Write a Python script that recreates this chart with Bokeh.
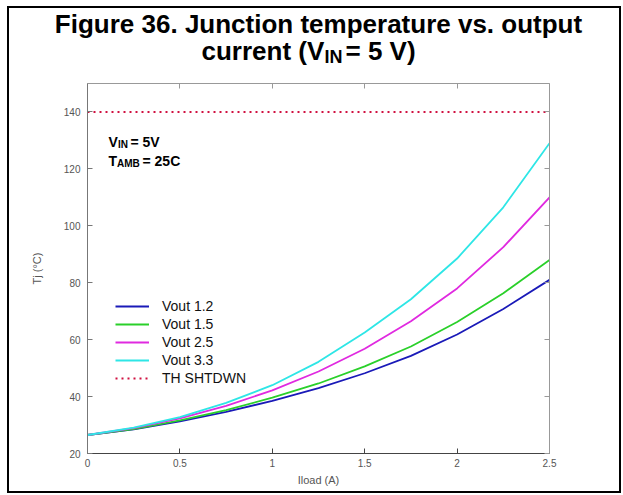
from bokeh.plotting import figure
from bokeh.layouts import column
from bokeh.models import (Label, Legend, LegendItem, LinearAxis, FixedTicker,
                          CustomLabelingPolicy)
from bokeh.embed import file_html
from bokeh.resources import INLINE

# ---------------- data ----------------
iload = [0.0, 0.25, 0.5, 0.75, 1.0, 1.25, 1.5, 1.75, 2.0, 2.25, 2.5]
tj_vout_1_2 = [26.5, 28.5, 31.3, 34.6, 38.5, 43.0, 48.2, 54.3, 61.8, 70.8, 81.0]
tj_vout_1_5 = [26.5, 28.6, 31.6, 35.2, 39.6, 44.6, 50.6, 57.6, 66.2, 76.3, 88.0]
tj_vout_2_5 = [26.5, 28.9, 32.3, 36.7, 42.2, 48.8, 56.8, 66.5, 78.0, 92.5, 110.0]
tj_vout_3_3 = [26.5, 29.1, 32.8, 37.8, 44.0, 52.2, 62.5, 74.2, 88.5, 106.5, 129.0]
th_shtdwn = 140

series_names = ["Vout 1.2", "Vout 1.5", "Vout 2.5", "Vout 3.3"]
series_values = [tj_vout_1_2, tj_vout_1_5, tj_vout_2_5, tj_vout_3_3]
series_colors = ["#1a1ab8", "#2ad02a", "#e02ae0", "#2ee6e6"]

x_ticks = [0, 0.5, 1, 1.5, 2, 2.5]
x_tick_labels = ["0", "0.5", "1", "1.5", "2", "2.5"]
y_ticks = [20, 40, 60, 80, 100, 120, 140]
y_tick_labels = ["20", "40", "60", "80", "100", "120", "140"]

FONT = "Liberation Sans"
W = 610


def lab(fig, x, y, t, size, bold=True, align="left"):
    fig.add_layout(Label(x=x, y=y, x_units="screen", y_units="screen", text=t,
                         text_font=FONT, text_font_size=size,
                         text_font_style="bold" if bold else "normal",
                         text_align=align, text_baseline="alphabetic",
                         text_color="#000000"))


# ---------------- title strip ----------------
tfig = figure(width=W, height=59, x_range=(0, 1), y_range=(0, 1),
              x_axis_location=None, y_axis_location=None,
              output_backend="svg", toolbar_location=None,
              min_border=0, min_border_left=0, min_border_right=0,
              min_border_top=0, min_border_bottom=0,
              title="Figure 36. Junction temperature vs. output")
tfig.grid.visible = False
tfig.outline_line_color = None
tfig.title.text_font = FONT
tfig.title.text_font_size = "26px"
tfig.title.text_font_style = "bold"
tfig.title.text_color = "#000000"
tfig.title.align = "center"
tfig.title.vertical_align = "top"
tfig.title.standoff = 0
tfig.title.offset = -3

lab(tfig, 114, 17, "current (V", "26px")
lab(tfig, 237, 11, "IN", "18px")
lab(tfig, 258, 17, " = 5 V)", "26px")

# ---------------- main plot ----------------
p = figure(width=W, height=424, x_range=(0, 2.5), y_range=(20, 150),
           output_backend="svg", toolbar_location=None,
           min_border_left=78, min_border_right=70,
           min_border_top=0, min_border_bottom=38)
p.outline_line_color = None
p.grid.visible = False

no_labels = CustomLabelingPolicy(code="""
for (const i of Array.from(indices)) { indices.unset(i) }
return indices
""")


def style_axis(ax, color):
    ax.axis_line_color = color
    ax.major_tick_line_color = color
    ax.major_tick_in = 5
    ax.major_tick_out = 0
    ax.minor_tick_line_color = None
    ax.major_label_text_font = FONT
    ax.major_label_text_font_size = "10px"
    ax.major_label_text_color = "#555555"
    ax.axis_label_text_font = FONT
    ax.axis_label_text_font_size = "11px"
    ax.axis_label_text_font_style = "normal"
    ax.axis_label_text_color = "#555555"


xa = p.xaxis[0]
xa.ticker = FixedTicker(ticks=x_ticks)
xa.major_label_overrides = {t: l for t, l in zip(x_ticks, x_tick_labels)}
xa.axis_label = "Iload (A)"
style_axis(xa, "#444444")
xa.major_label_standoff = 5
xa.axis_label_standoff = 4

ya = p.yaxis[0]
ya.ticker = FixedTicker(ticks=y_ticks)
ya.major_label_overrides = {t: l for t, l in zip(y_ticks, y_tick_labels)}
ya.axis_label = "Tj (\u00b0C)"
style_axis(ya, "#777777")
ya.major_label_standoff = 7
ya.axis_label_standoff = 18

xt = LinearAxis(ticker=FixedTicker(ticks=x_ticks), major_label_policy=no_labels)
style_axis(xt, "#999999")
p.add_layout(xt, "above")
yr = LinearAxis(ticker=FixedTicker(ticks=y_ticks), major_label_policy=no_labels)
style_axis(yr, "#999999")
p.add_layout(yr, "right")

renderers = []
for name, vals, col in zip(series_names, series_values, series_colors):
    renderers.append(p.line(iload, vals, line_color=col, line_width=1.8))

r_th = p.line([iload[0], iload[-1]], [th_shtdwn, th_shtdwn],
              line_color="#d01040", line_width=2, line_dash="2 4")

items = [LegendItem(label=n, renderers=[r]) for n, r in zip(series_names, renderers)]
items.append(LegendItem(label="TH SHTDWN", renderers=[r_th]))
legend = Legend(items=items, location=(28, 66), padding=0, margin=0,
                border_line_alpha=0, background_fill_alpha=0,
                glyph_width=34, glyph_height=18, label_height=18, spacing=0,
                label_standoff=13, label_text_font=FONT,
                label_text_font_size="14px", label_text_color="#111111")
p.add_layout(legend)

# in-plot annotation
lab(p, 21, 312, "V", "14px")
lab(p, 30.5, 309, "IN", "10px")
lab(p, 43, 312, " = 5V", "14px")
lab(p, 21, 293, "T", "14px")
lab(p, 29.5, 290, "AMB", "10px")
lab(p, 55, 293, " = 25C", "14px")

layout = column(tfig, p, spacing=0,
                styles={"border": "2px solid black", "margin-left": "7px",
                        "margin-top": "6px"})

open("out.html", "w").write(file_html(layout, INLINE))
